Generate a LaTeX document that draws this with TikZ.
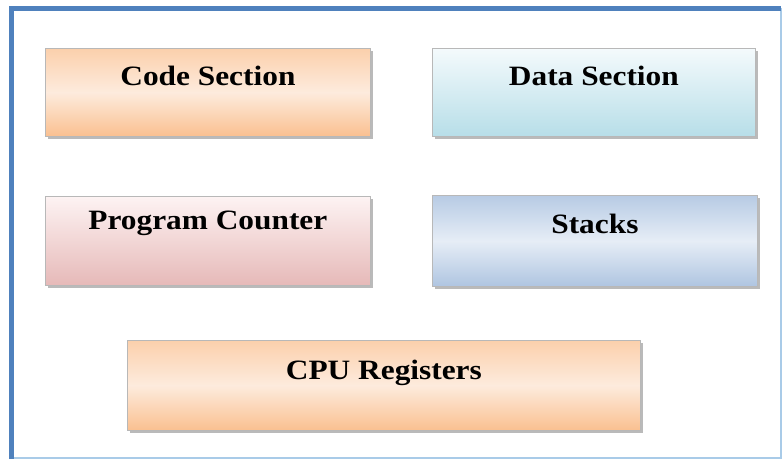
\documentclass[tikz,border=0pt]{standalone}
\usepackage{fontspec}
\setmainfont{Liberation Serif}[FakeStretch=1.12]
\usetikzlibrary{shadows}

\definecolor{frameblue}{HTML}{4F81BD}
\definecolor{framelight}{HTML}{A9CBE8}
\definecolor{peach}{HTML}{FAC090}
\definecolor{peachlight}{HTML}{FDEBDD}
\definecolor{aqua}{HTML}{B7DEE8}
\definecolor{aqualight}{HTML}{F4FAFC}
\definecolor{rose}{HTML}{E6B9B8}
\definecolor{roselight}{HTML}{FDF3F3}
\definecolor{steel}{HTML}{AFC5E1}
\definecolor{steellight}{HTML}{E6EDF6}

\tikzset{
  part/.style={draw=black!28, line width=0.8pt, inner sep=0pt,
    minimum width=325, text height=37pt, text depth=51pt,
    font=\fontsize{28}{30}\selectfont\bfseries,
    drop shadow={shadow xshift=3pt, shadow yshift=-3pt, fill=black!45, opacity=0.6}},
  peachbox/.style={part, top color=peach!75, bottom color=peach, middle color=peachlight},
  aquabox/.style={part, top color=aqualight, bottom color=aqua},
  rosebox/.style={part, top color=roselight, bottom color=rose},
  steelbox/.style={part, top color=steel!90, bottom color=steel, middle color=steellight},
}

\begin{document}
\begin{tikzpicture}[x=1pt, y=-1pt]
  \useasboundingbox (0,0) rectangle (784,459);

  % outer frame
  \draw[framelight, line width=2pt] (11,457.5) -- (780.5,457.5) -- (780.5,8);
  \draw[frameblue, line width=5pt] (11.5,459) -- (11.5,8.5) -- (781,8.5);

  \node[peachbox, anchor=north west] (code) at (45,48) {Code Section};
  \node[aquabox, anchor=north west, minimum width=323] (data) at (432,48) {Data Section};
  \node[rosebox, anchor=north west, text height=33pt, text depth=56pt] (pc) at (45,196) {Program Counter};
  \node[steelbox, anchor=north west, text height=38pt, text depth=53pt] (stacks) at (432,195) {Stacks};
  \node[peachbox, anchor=north west, minimum width=513, text height=39pt, text depth=51pt] (cpu) at (127,340) {CPU Registers};
\end{tikzpicture}
\end{document}
